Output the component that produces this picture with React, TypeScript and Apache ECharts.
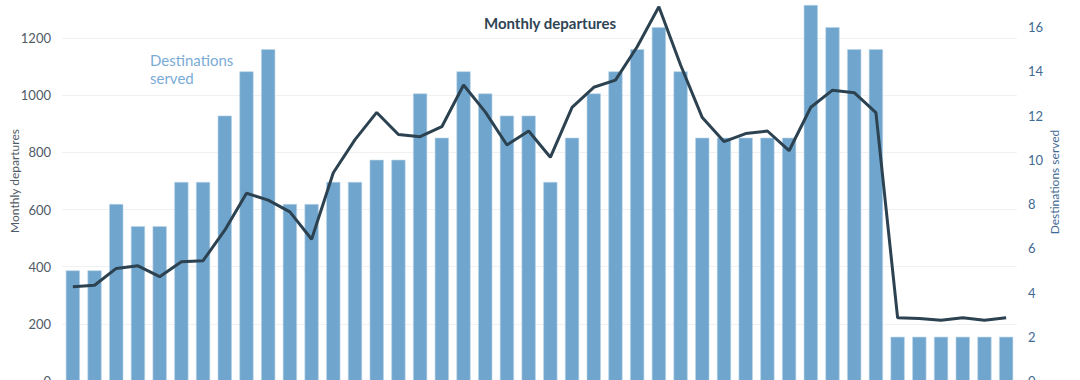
import React, { useEffect, useRef } from "react";
import * as echarts from "echarts";

const months: string[] = [
  "2016-12", "2017-01", "2017-02", "2017-03", "2017-04", "2017-05", "2017-06", "2017-07", "2017-08", "2017-09", "2017-10",
  "2017-11", "2017-12", "2018-01", "2018-02", "2018-03", "2018-04", "2018-05", "2018-06", "2018-07", "2018-08", "2018-09",
  "2018-10", "2018-11", "2018-12", "2019-01", "2019-02", "2019-03", "2019-04", "2019-05", "2019-06", "2019-07", "2019-08",
  "2019-09", "2019-10", "2019-11", "2019-12", "2020-01", "2020-02", "2020-03", "2020-04", "2020-05", "2020-06", "2020-07",
];

const destinationsServed: number[] = [
  5, 5, 8, 7, 7, 9, 9, 12, 14, 15, 8,
  8, 9, 9, 10, 10, 13, 11, 14, 13, 12, 12,
  9, 11, 13, 14, 15, 16, 14, 11, 11, 11, 11,
  11, 17, 16, 15, 15, 2, 2, 2, 2, 2, 2,
];

const monthlyDepartures: number[] = [
  330, 335, 394, 403, 365, 417, 421, 528, 657, 633, 592,
  496, 729, 845, 940, 863, 855, 890, 1036, 942, 826, 875,
  783, 958, 1028, 1053, 1170, 1310, 1106, 922, 838, 866, 875,
  806, 958, 1018, 1009, 939, 221, 219, 213, 221, 213, 221,
];

const departuresTicks = { min: 0, max: 1316, interval: 200, gridMax: 1200 };
const destinationsTicks = { min: 0, max: 17, interval: 2 };

const FONT = "Lato, 'Open Sans', sans-serif";

export default function App() {
  const ref = useRef<HTMLDivElement>(null);

  useEffect(() => {
    if (!ref.current) return;
    const chart = echarts.init(ref.current, undefined, { renderer: "svg" });
    const plotTop = 5;
    const plotBottom = 19;
    const plotH = 400 - plotTop - plotBottom;
    const gridTop2 = plotTop + plotH * (1 - departuresTicks.gridMax / departuresTicks.max);
    chart.setOption({
      animation: false,
      backgroundColor: "#ffffff",
      textStyle: { fontFamily: FONT },
      grid: [
        { left: 62, right: 63, top: plotTop, bottom: plotBottom, containLabel: false },
        { left: 62, right: 63, top: gridTop2, bottom: plotBottom, containLabel: false },
      ],
      xAxis: [
        {
          type: "category",
          gridIndex: 0,
          data: months,
          boundaryGap: true,
          axisLine: { show: false },
          axisTick: { show: false },
          axisLabel: { show: false },
          splitLine: { show: false },
        },
        {
          type: "category",
          gridIndex: 1,
          data: months,
          show: false,
        },
      ],
      yAxis: [
        {
          type: "value",
          gridIndex: 0,
          min: departuresTicks.min,
          max: departuresTicks.max,
          interval: departuresTicks.interval,
          axisLine: { show: false },
          axisTick: { show: false },
          axisLabel: {
            showMaxLabel: false,
            color: "#4f5b66",
            fontSize: 13,
            fontFamily: FONT,
            margin: 11,
            formatter: (v: number) => String(v),
          },
          splitLine: { show: false },
        },
        {
          type: "value",
          gridIndex: 0,
          position: "right",
          min: destinationsTicks.min,
          max: destinationsTicks.max,
          interval: destinationsTicks.interval,
          axisLine: { show: false },
          axisTick: { show: false },
          axisLabel: {
            showMaxLabel: false,
            color: "#3f6a93",
            fontSize: 13,
            fontFamily: FONT,
            margin: 11,
          },
          splitLine: { show: false },
        },
        {
          type: "value",
          gridIndex: 1,
          min: departuresTicks.min,
          max: departuresTicks.gridMax,
          interval: departuresTicks.interval,
          axisLine: { show: false },
          axisTick: { show: false },
          axisLabel: { show: false },
          splitLine: { show: true, lineStyle: { color: "#f1f1f1", width: 1 } },
        },
      ],
      series: [
        {
          name: "Destinations served",
          type: "bar",
          xAxisIndex: 0,
          yAxisIndex: 1,
          data: destinationsServed,
          barCategoryGap: "35%",
          itemStyle: { color: "#70a6cd", borderColor: "#b9d3e8", borderWidth: 0.6 },
          z: 2,
        },
        {
          name: "Monthly departures",
          type: "line",
          xAxisIndex: 0,
          yAxisIndex: 0,
          data: monthlyDepartures,
          symbol: "none",
          lineStyle: { color: "#2c4251", width: 3 },
          itemStyle: { color: "#2c4251" },
          z: 3,
        },
      ],
      graphic: [
        {
          type: "text",
          x: 550,
          y: 23,
          style: {
            text: "Monthly departures",
            fill: "#2f4454",
            font: `bold 15px ${FONT}`,
            align: "center",
            verticalAlign: "middle",
          },
          z: 10,
        },
        {
          type: "text",
          x: 150,
          y: 51,
          style: {
            text: "Destinations\nserved",
            fill: "#7aabd6",
            font: `15px ${FONT}`,
            lineHeight: 18,
            align: "left",
            verticalAlign: "top",
          },
          z: 10,
        },
        {
          type: "text",
          x: 14,
          y: 181,
          rotation: Math.PI / 2,
          style: {
            text: "Monthly departures",
            fill: "#4f5b66",
            font: `12px ${FONT}`,
            align: "center",
            verticalAlign: "middle",
          },
        },
        {
          type: "text",
          x: 1054,
          y: 182,
          rotation: Math.PI / 2,
          style: {
            text: "Destinations served",
            fill: "#3f6a93",
            font: `12px ${FONT}`,
            align: "center",
            verticalAlign: "middle",
          },
        },
      ],
    });
    return () => chart.dispose();
  }, []);

  return (
    <div
      ref={ref}
      style={{ position: "absolute", left: 0, top: 0, width: 1080, height: 400, background: "#fff" }}
    />
  );
}
